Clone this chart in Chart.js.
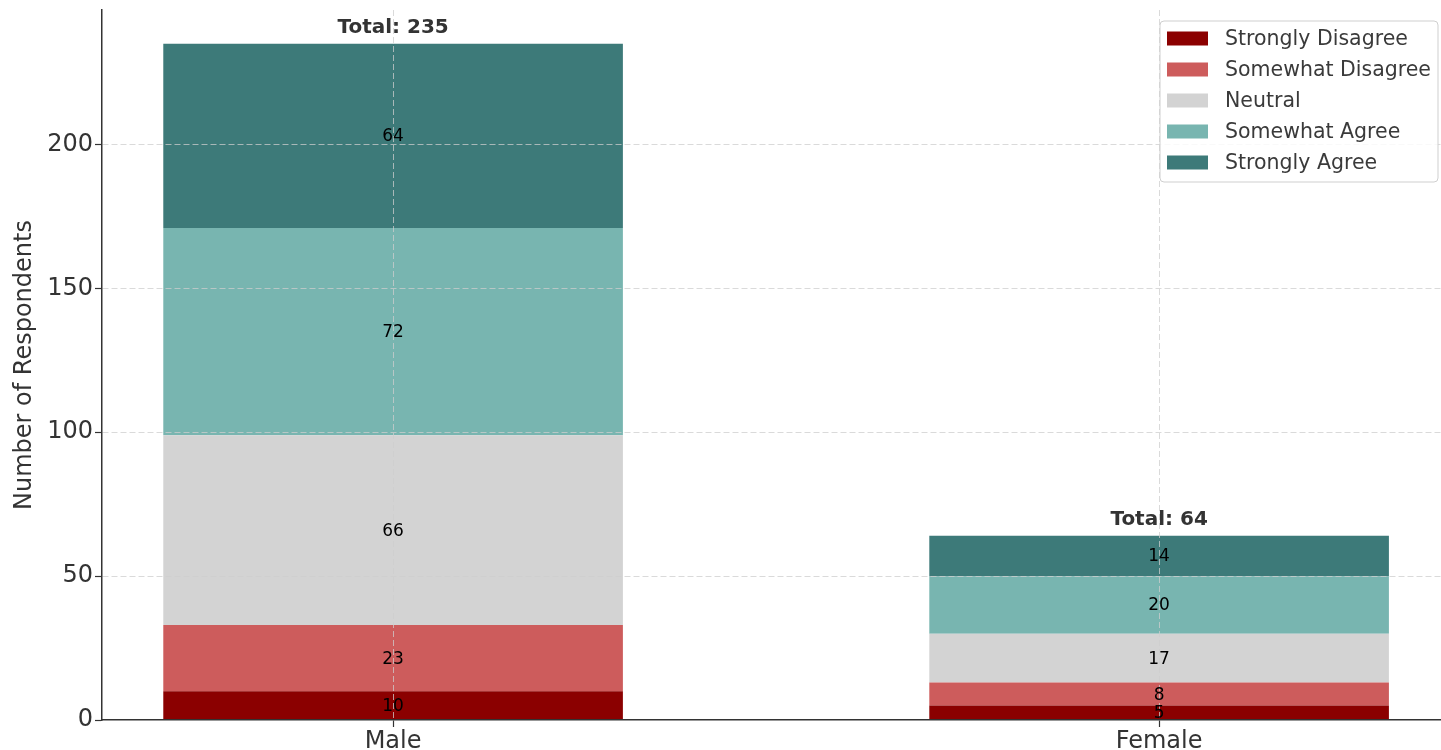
<!DOCTYPE html>
<html lang="en">
<head>
<meta charset="UTF-8" />
<title>Respondents by Gender</title>
<script src="https://cdn.jsdelivr.net/npm/chart.js"></script>
<style>
  body { margin: 0; background: #fff; }
  .wrap { width: 1441px; height: 750px; }
</style>
</head>
<body>
<div class="wrap"><canvas id="chart" width="1441" height="750"></canvas></div>
<script>
  const genders = ['Male', 'Female'];
  const responses = ['Strongly Disagree', 'Somewhat Disagree', 'Neutral', 'Somewhat Agree', 'Strongly Agree'];
  const stronglyDisagree = [10, 5];
  const somewhatDisagree = [23, 8];
  const neutral = [66, 17];
  const somewhatAgree = [72, 20];
  const stronglyAgree = [64, 14];
  const yTicks = [0, 50, 100, 150, 200];
  const colors = ['#8b0000', '#cd5c5c', '#d3d3d3', '#78b5b0', '#3d7a79'];

  const series = [stronglyDisagree, somewhatDisagree, neutral, somewhatAgree, stronglyAgree];
  const FONT = 'DejaVu Sans';
  Chart.defaults.font.family = FONT;

  const gridColor = 'rgba(205,205,205,0.75)';

  // value in the middle of each segment, total above each bar, legend box top right
  const annotations = {
    id: 'annotations',
    afterDraw(chart) {
      const ctx = chart.ctx;
      const area = chart.chartArea;
      ctx.save();

      ctx.font = '17px "' + FONT + '"';
      ctx.fillStyle = '#000';
      ctx.textAlign = 'center';
      ctx.textBaseline = 'middle';
      chart.data.datasets.forEach((ds, i) => {
        chart.getDatasetMeta(i).data.forEach((bar, j) => {
          ctx.fillText(String(series[i][j]), bar.x, (bar.y + bar.base) / 2 + 1);
        });
      });

      const lastMeta = chart.getDatasetMeta(series.length - 1);
      ctx.font = 'bold 20px "' + FONT + '"';
      ctx.fillStyle = '#333';
      ctx.textBaseline = 'alphabetic';
      genders.forEach((g, j) => {
        const total = series.reduce((s, arr) => s + arr[j], 0);
        const bar = lastMeta.data[j];
        ctx.fillText('Total: ' + total, bar.x, bar.y - 11);
      });

      // legend
      const bx = area.right - 281, by = area.top + 11, bw = 278, bh = 161;
      ctx.beginPath();
      ctx.roundRect(bx, by, bw, bh, 4);
      ctx.fillStyle = 'rgba(255,255,255,0.85)';
      ctx.fill();
      ctx.strokeStyle = '#cfcfcf';
      ctx.lineWidth = 1;
      ctx.stroke();
      ctx.font = '20.5px "' + FONT + '"';
      ctx.textAlign = 'left';
      ctx.textBaseline = 'middle';
      responses.forEach((r, i) => {
        const cy = by + 17.5 + i * 31;
        ctx.fillStyle = colors[i];
        ctx.fillRect(bx + 7, cy - 7, 41, 14);
        ctx.fillStyle = '#3a3a3a';
        ctx.fillText(r, bx + 65, cy + 1);
      });
      ctx.restore();
    }
  };

  new Chart(document.getElementById('chart'), {
    type: 'bar',
    data: {
      datasets: responses.map((r, i) => ({
        label: r,
        data: series[i].map((v, j) => ({ x: j, y: v })),
        backgroundColor: colors[i],
        borderWidth: 0,
        categoryPercentage: 1,
        barPercentage: 0.6
      }))
    },
    options: {
      responsive: false,
      animation: false,
      layout: { padding: { top: 10, left: 0, right: 0, bottom: 0 } },
      plugins: {
        legend: { display: false },
        tooltip: { enabled: false }
      },
      scales: {
        x: {
          type: 'linear',
          stacked: true,
          offset: false,
          min: -0.38,
          max: 1.368,
          afterBuildTicks: s => { s.ticks = genders.map((g, i) => ({ value: i })); },
          afterFit: s => { s.height = 30; s.paddingLeft = 0; s.paddingRight = 0; },
          ticks: {
            callback: v => genders[v],
            font: { size: 24 },
            color: '#333',
            padding: 0,
            maxRotation: 0
          },
          grid: { offset: false, color: gridColor, lineWidth: 1, z: 1, tickLength: 7, tickColor: '#333', tickWidth: 1.2 },
          border: { display: true, color: '#333', width: 1.5, dash: [6, 3], z: 1 }
        },
        y: {
          stacked: true,
          min: 0,
          max: 246.75,
          afterBuildTicks: s => { s.ticks = yTicks.map(v => ({ value: v })); },
          afterFit: s => { s.width = 102; s.paddingTop = 0; s.paddingBottom = 0; },
          title: {
            display: true,
            text: 'Number of Respondents',
            font: { size: 24 },
            color: '#333',
            padding: { top: 10, bottom: 0 }
          },
          ticks: { font: { size: 24 }, color: '#333', padding: 2 },
          grid: {
            color: c => (c.tick && c.tick.value === 0 ? 'rgba(0,0,0,0)' : gridColor),
            lineWidth: 1, z: 1, tickLength: 7, tickColor: '#333', tickWidth: 1.2
          },
          border: { display: true, color: '#333', width: 1.5, dash: [6, 3], z: 1 }
        }
      }
    },
    plugins: [annotations]
  });
</script>
</body>
</html>
